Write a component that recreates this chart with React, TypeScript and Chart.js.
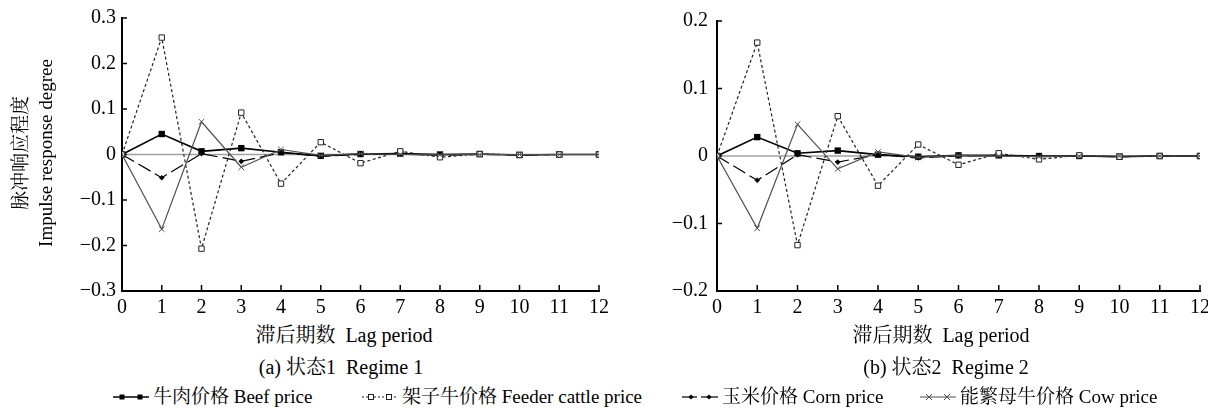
import React, { useEffect, useRef } from "react";
import { Chart, registerables } from "chart.js";

Chart.register(...registerables);

// ---- data ----
const lags = [0, 1, 2, 3, 4, 5, 6, 7, 8, 9, 10, 11, 12];

const beef1 = [0, 0.045, 0.007, 0.014, 0.005, -0.003, 0.001, 0.002, 0.0, 0.001, -0.001, 0, 0];
const feeder1 = [0, 0.257, -0.207, 0.092, -0.064, 0.027, -0.019, 0.007, -0.006, 0.001, -0.001, 0, 0];
const corn1 = [0, -0.051, 0.002, -0.015, 0.004, -0.004, 0.0, 0.001, -0.002, 0.0, -0.001, 0, 0];
const cow1 = [0, -0.164, 0.072, -0.028, 0.011, -0.002, 0.002, 0.0, -0.001, 0.0, 0, 0, 0];

const beef2 = [0, 0.028, 0.004, 0.008, 0.002, -0.001, 0.001, 0.001, 0.0, 0.0, -0.001, 0, 0];
const feeder2 = [0, 0.168, -0.132, 0.059, -0.044, 0.017, -0.013, 0.004, -0.005, 0.001, -0.001, 0, 0];
const corn2 = [0, -0.036, 0.002, -0.009, 0.002, -0.003, 0.0, 0.001, -0.001, 0, -0.001, 0, 0];
const cow2 = [0, -0.107, 0.047, -0.019, 0.006, -0.002, 0.001, 0, -0.001, 0, 0, 0, 0];

const yTicks1 = [-0.3, -0.2, -0.1, 0, 0.1, 0.2, 0.3];
const yTicks2 = [-0.2, -0.1, 0, 0.1, 0.2];
const xTicks = lags;

const seriesNames = ["牛肉价格 Beef price", "架子牛价格 Feeder cattle price", "玉米价格 Corn price", "能繁母牛价格 Cow price"];
const yTitle = ["脉冲响应程度", "Impulse response degree"];
const xTitle = "滞后期数  Lag period";
const captions = ["(a) 状态1  Regime 1", "(b) 状态2  Regime 2"];

const FONT = "'Liberation Serif', 'Noto Serif CJK SC', serif";

const fmt = (v: number) => (Math.abs(v) < 1e-9 ? "0" : v.toFixed(1).replace("-", "\u2212"));

const axisDecor = {
  id: "axisDecor",
  beforeDatasetsDraw(chart: any) {
    const { ctx, chartArea, scales } = chart;
    const x = scales.x;
    const y = scales.y;
    ctx.save();
    const y0 = y.getPixelForValue(0);
    ctx.strokeStyle = "#a0a0a0";
    ctx.lineWidth = 1.5;
    ctx.beginPath();
    ctx.moveTo(chartArea.left, y0);
    ctx.lineTo(chartArea.right, y0);
    ctx.stroke();
    ctx.strokeStyle = "#000";
    ctx.lineWidth = 1.5;
    ctx.beginPath();
    x.ticks.forEach((t: any) => {
      const px = x.getPixelForValue(t.value);
      ctx.moveTo(px, chartArea.bottom);
      ctx.lineTo(px, chartArea.bottom - 6);
    });
    y.ticks.forEach((t: any) => {
      const py = y.getPixelForValue(t.value);
      ctx.moveTo(chartArea.left, py);
      ctx.lineTo(chartArea.left + 5, py);
    });
    ctx.stroke();
    ctx.restore();
  },
};

function buildDatasets(beef: number[], feeder: number[], corn: number[], cow: number[]) {
  const pts = (arr: number[]) => lags.map((l, i) => ({ x: l, y: arr[i] }));
  return [
    {
      label: seriesNames[3],
      data: pts(cow),
      borderColor: "#505050",
      borderWidth: 1.2,
      pointStyle: "crossRot",
      pointRadius: 4,
      pointBorderColor: "#505050",
      pointBorderWidth: 1,
    },
    {
      label: seriesNames[1],
      data: pts(feeder),
      borderColor: "#222",
      borderWidth: 1.2,
      borderDash: [3, 2.5],
      pointStyle: "rect",
      pointRadius: 3.8,
      pointBackgroundColor: "#fff",
      pointBorderColor: "#222",
      pointBorderWidth: 1,
    },
    {
      label: seriesNames[2],
      data: pts(corn),
      borderColor: "#000",
      borderWidth: 1.2,
      borderDash: [14, 5],
      pointStyle: "rectRot",
      pointRadius: 2.8,
      pointBackgroundColor: "#000",
      pointBorderColor: "#000",
      pointBorderWidth: 0,
    },
    {
      label: seriesNames[0],
      data: pts(beef),
      borderColor: "#000",
      borderWidth: 1.6,
      pointStyle: "rect",
      pointRadius: 4.5,
      pointBackgroundColor: "#000",
      pointBorderColor: "#000",
      pointBorderWidth: 0,
    },
  ];
}

type PanelProps = {
  left: number;
  width: number;
  height: number;
  datasets: any[];
  yTicks: number[];
  padTop: number;
  padRight: number;
  axisWidth: number;
  tickPad: number;
};

function Panel(p: PanelProps) {
  const ref = useRef<HTMLCanvasElement | null>(null);
  useEffect(() => {
    if (!ref.current) return;
    const yMin = p.yTicks[0];
    const yMax = p.yTicks[p.yTicks.length - 1];
    const chart = new Chart(ref.current, {
      type: "line",
      data: { datasets: p.datasets },
      plugins: [axisDecor],
      options: {
        animation: false,
        responsive: false,
        events: [],
        layout: { padding: { top: p.padTop, right: p.padRight, left: 0, bottom: 0 } },
        plugins: { legend: { display: false }, tooltip: { enabled: false } },
        elements: { line: { tension: 0 } },
        scales: {
          x: {
            type: "linear",
            min: 0,
            max: 12,
            afterBuildTicks: (s: any) => {
              s.ticks = xTicks.map((v) => ({ value: v }));
            },
            afterFit: (s: any) => {
              s.height = p.height - 291;
            },
            grid: { display: false, drawTicks: false },
            border: { display: true, color: "#000", width: 2 },
            ticks: {
              color: "#000",
              padding: 5,
              font: { family: FONT, size: 20 },
              callback: (v: any) => String(v),
            },
          },
          y: {
            type: "linear",
            min: yMin,
            max: yMax,
            afterBuildTicks: (s: any) => {
              s.ticks = p.yTicks.map((v) => ({ value: v }));
            },
            afterFit: (s: any) => {
              s.width = p.axisWidth;
            },
            grid: { display: false, drawTicks: false },
            border: { display: true, color: "#000", width: 2 },
            ticks: {
              color: "#000",
              padding: p.tickPad,
              font: { family: FONT, size: 20 },
              callback: (v: any) => fmt(Number(v)),
            },
          },
        },
      } as any,
    });
    return () => chart.destroy();
  }, []);
  return (
    <canvas
      ref={ref}
      width={p.width}
      height={p.height}
      style={{ position: "absolute", left: p.left, top: 0, width: p.width, height: p.height }}
    />
  );
}

function LegendSymbol({ kind }: { kind: number }) {
  const w = 36;
  const h = 14;
  const cy = 7;
  const m1 = 9;
  const m2 = 27;
  if (kind === 0) {
    return (
      <svg width={w} height={h}>
        <line x1={0} y1={cy} x2={w} y2={cy} stroke="#000" strokeWidth={1.5} />
        <rect x={m1 - 2.5} y={cy - 2.5} width={5} height={5} fill="#000" />
        <rect x={m2 - 2.5} y={cy - 2.5} width={5} height={5} fill="#000" />
      </svg>
    );
  }
  if (kind === 1) {
    return (
      <svg width={w} height={h}>
        <line x1={0} y1={cy} x2={w} y2={cy} stroke="#222" strokeWidth={1.2} strokeDasharray="2,2" />
        <rect x={m1 - 2.5} y={cy - 2.5} width={5} height={5} fill="#fff" stroke="#222" strokeWidth={1} />
        <rect x={m2 - 2.5} y={cy - 2.5} width={5} height={5} fill="#fff" stroke="#222" strokeWidth={1} />
      </svg>
    );
  }
  if (kind === 2) {
    return (
      <svg width={w} height={h}>
        <line x1={0} y1={cy} x2={15} y2={cy} stroke="#000" strokeWidth={1.2} />
        <line x1={19} y1={cy} x2={w} y2={cy} stroke="#000" strokeWidth={1.2} />
        <polygon points={`${m1},${cy - 2.5} ${m1 + 2.5},${cy} ${m1},${cy + 2.5} ${m1 - 2.5},${cy}`} fill="#000" />
        <polygon points={`${m2},${cy - 2.5} ${m2 + 2.5},${cy} ${m2},${cy + 2.5} ${m2 - 2.5},${cy}`} fill="#000" />
      </svg>
    );
  }
  return (
    <svg width={w} height={h}>
      <line x1={0} y1={cy} x2={w} y2={cy} stroke="#505050" strokeWidth={1.2} />
      <path d={`M${m1 - 3},${cy - 3} L${m1 + 3},${cy + 3} M${m1 - 3},${cy + 3} L${m1 + 3},${cy - 3}`} stroke="#505050" strokeWidth={1} />
      <path d={`M${m2 - 3},${cy - 3} L${m2 + 3},${cy + 3} M${m2 - 3},${cy + 3} L${m2 + 3},${cy - 3}`} stroke="#505050" strokeWidth={1} />
    </svg>
  );
}

const legendX = [113, 362, 682, 920];

export default function App() {
  const textStyle = (cx: number, cy: number): React.CSSProperties => ({
    position: "absolute",
    left: cx - 200,
    width: 400,
    top: cy - 12,
    height: 24,
    lineHeight: "24px",
    textAlign: "center",
    fontSize: 20,
    whiteSpace: "pre",
    color: "#000",
  });
  const vTitle = (cx: number, cy: number): React.CSSProperties => ({
    position: "absolute",
    left: cx - 150,
    top: cy - 12,
    width: 300,
    height: 24,
    lineHeight: "24px",
    textAlign: "center",
    fontSize: 19,
    whiteSpace: "pre",
    color: "#000",
    transform: "rotate(-90deg)",
    transformOrigin: "50% 50%",
  });
  return (
    <div
      style={{
        position: "absolute",
        left: 0,
        top: 0,
        width: 1208,
        height: 409,
        overflow: "hidden",
        background: "#fff",
        fontFamily: FONT,
      }}
    >
      <Panel
        left={0}
        width={614}
        height={320}
        datasets={buildDatasets(beef1, feeder1, corn1, cow1)}
        yTicks={yTicks1}
        padTop={15}
        padRight={11}
        axisWidth={122}
        tickPad={6}
      />
      <Panel
        left={610}
        width={605}
        height={320}
        datasets={buildDatasets(beef2, feeder2, corn2, cow2)}
        yTicks={yTicks2}
        padTop={21}
        padRight={10}
        axisWidth={107}
        tickPad={9}
      />
      <div style={vTitle(21, 153)}>{yTitle[0]}</div>
      <div style={vTitle(46, 153)}>{yTitle[1]}</div>
      <div style={textStyle(344, 335)}>{xTitle}</div>
      <div style={textStyle(941, 335)}>{xTitle}</div>
      <div style={textStyle(341, 367)}>{captions[0]}</div>
      <div style={textStyle(946, 367)}>{captions[1]}</div>
      {seriesNames.map((name, i) => (
        <div
          key={i}
          style={{
            position: "absolute",
            left: legendX[i],
            top: 385,
            height: 24,
            lineHeight: "24px",
            fontSize: 19,
            whiteSpace: "pre",
            display: "flex",
            alignItems: "center",
            color: "#000",
          }}
        >
          <LegendSymbol kind={i} />
          <span style={{ marginLeft: 4 }}>{name}</span>
        </div>
      ))}
    </div>
  );
}
